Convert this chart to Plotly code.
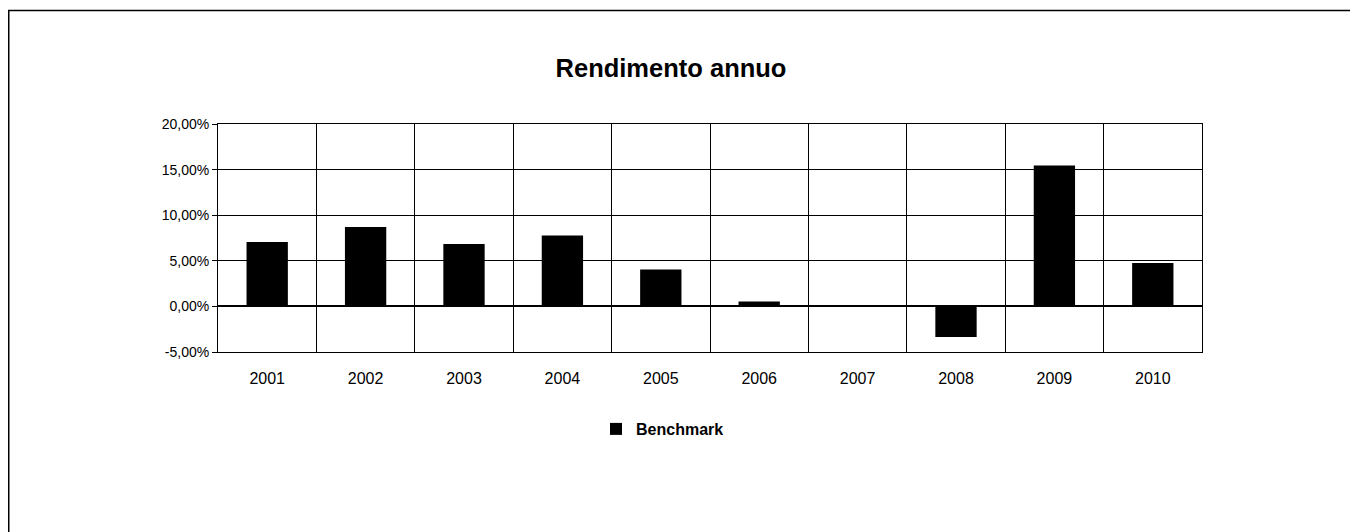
import plotly.graph_objects as go

years = ["2001", "2002", "2003", "2004", "2005", "2006", "2007", "2008", "2009", "2010"]
benchmark = [0.0705, 0.087, 0.0683, 0.0778, 0.0405, 0.0055, 0.0, -0.0335, 0.1544, 0.0475]
y_ticks = [-0.05, 0.0, 0.05, 0.10, 0.15, 0.20]
y_tick_labels = ["-5,00%", "0,00%", "5,00%", "10,00%", "15,00%", "20,00%"]

# page body has an 8px margin; figure coordinates below
W, H = 1350, 524
L, R, T, B = 210, 1194, 116, 344
PW, PH = R - L, B - T

fig = go.Figure()
fig.add_trace(go.Bar(
    x=years, y=benchmark, name="Benchmark",
    marker=dict(color="#000000", line=dict(color="#000000", width=0)),
    width=0.42,
))

fig.update_layout(
    width=W, height=H,
    margin=dict(l=L, r=W - R, t=T, b=H - B, pad=0),
    paper_bgcolor="white", plot_bgcolor="white",
    font=dict(family="Liberation Sans, Arial, sans-serif", color="#000000"),
    title=dict(text="<b>Rendimento annuo</b>", x=663 / W, xref="container",
               y=1 - 60 / H, yref="container", yanchor="middle", xanchor="center",
               font=dict(size=25.5, color="#000000")),
    showlegend=True,
    legend=dict(orientation="h", x=(588 - L) / PW, xanchor="left",
                y=(B - 421) / PH, yanchor="middle", yref="paper",
                font=dict(size=16, weight="bold"),
                itemwidth=30, bgcolor="rgba(0,0,0,0)"),
    shapes=[dict(type="rect", xref="paper", yref="paper",
                 x0=(0.75 - L) / PW, x1=(1380 - L) / PW,
                 y0=(B - 560) / PH, y1=(B - 2.5) / PH,
                 line=dict(color="#000000", width=1.5), fillcolor="rgba(0,0,0,0)",
                 layer="below")],
)

fig.update_xaxes(
    type="category", tickson="boundaries", showgrid=True, gridcolor="#000000", gridwidth=1,
    showline=True, linecolor="#000000", linewidth=1, mirror=True,
    ticks="", tickfont=dict(size=16), ticklabelstandoff=12,
)
fig.update_yaxes(
    range=[-0.05, 0.20], tickvals=y_ticks, ticktext=y_tick_labels,
    showgrid=True, gridcolor="#000000", gridwidth=1,
    zeroline=True, zerolinecolor="#000000", zerolinewidth=1.5,
    showline=True, linecolor="#000000", linewidth=1, mirror=True,
    ticks="outside", ticklen=5, tickcolor="#000000", tickfont=dict(size=14),
)

fig.write_html("out.html")
